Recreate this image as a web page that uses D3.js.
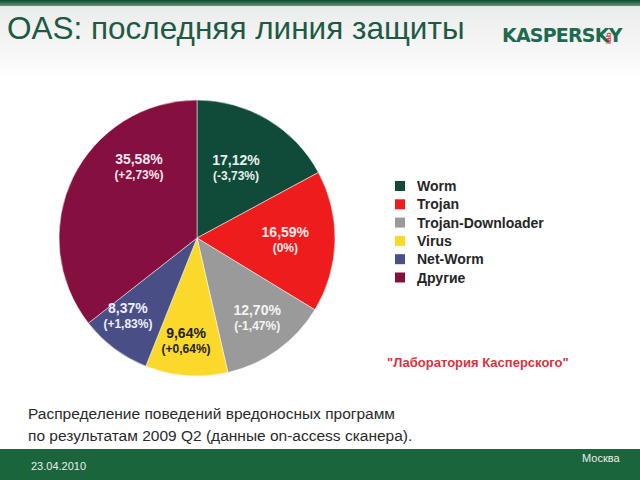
<!DOCTYPE html>
<html><head><meta charset="utf-8">
<script src="https://cdn.jsdelivr.net/npm/d3@7"></script>
<style>body{margin:0;padding:0;overflow:hidden;background:#fff}</style>
</head><body>
<svg id="c" width="640" height="480"></svg>
<script>
const categories = ["Worm","Trojan","Trojan-Downloader","Virus","Net-Worm","Другие"];
const values = [17.12,16.59,12.70,9.64,8.37,35.58];
const changes = ["(-3,73%)","(0%)","(-1,47%)","(+0,64%)","(+1,83%)","(+2,73%)"];
const colors = ["#0f4b38","#ee1c1c","#9a9a9a","#fbd92a","#4a4e86","#85103f"];
const labelColors = ["#e8f0ec","#fde8e8","#f4f4f4","#222222","#eeeeff","#f6e6ee"];

const svg = d3.select("#c");
const defs = svg.append("defs");
const g1 = defs.append("linearGradient").attr("id","bg").attr("x1","0").attr("y1","0").attr("x2","0").attr("y2","1");
g1.append("stop").attr("offset","0").attr("stop-color","#e8eae9");
g1.append("stop").attr("offset","0.6").attr("stop-color","#f6f6f6");
g1.append("stop").attr("offset","1").attr("stop-color","#ffffff");
svg.append("rect").attr("x",0).attr("y",0).attr("width",640).attr("height",480).attr("fill","#fff");
svg.append("rect").attr("x",0).attr("y",0).attr("width",640).attr("height",80).attr("fill","url(#bg)");
const g2 = defs.append("linearGradient").attr("id","top").attr("x1","0").attr("y1","0").attr("x2","0").attr("y2","1");
g2.append("stop").attr("offset","0").attr("stop-color","#0d4a2c");
g2.append("stop").attr("offset","1").attr("stop-color","#6a9279");
svg.append("rect").attr("x",0).attr("y",0).attr("width",640).attr("height",6).attr("fill","url(#top)");

svg.append("text").attr("x",7).attr("y",39)
  .attr("font-family","Liberation Sans, Arial, sans-serif").attr("font-size",31.5)
  .attr("fill","#1d5a44").text("OAS: последняя линия защиты");

// logo
svg.append("text").attr("x",502).attr("y",42)
  .attr("font-family","DejaVu Sans, sans-serif").attr("font-size",19).attr("font-weight","bold")
  .attr("letter-spacing",-0.8).attr("fill","#1c6a4f").text("KASPERSKY");
svg.append("text").attr("transform","translate(611,44) rotate(-90)")
  .attr("font-family","Liberation Sans, Arial, sans-serif").attr("font-size",8).attr("font-weight","bold")
  .attr("fill","#c8303a").text("lab");

// pie
const cx = 197, cy = 238, r = 138;
const pie = d3.pie().sort(null).value(d=>d)(values);
const arc = d3.arc().innerRadius(0).outerRadius(r);
const pg = svg.append("g").attr("transform",`translate(${cx},${cy})`);
pg.selectAll("path").data(pie).join("path").attr("d",arc).attr("fill",(d,i)=>colors[i])
  .attr("stroke","#ffffff").attr("stroke-width",0.5);
// label placement: fraction across slice angle, fraction of radius
const labelT = [0.467,0.486,0.468,0.55,0.667,0.696];
const labelK = [0.587,0.64,0.72,0.74,0.75,0.67];
pg.selectAll("g.lbl").data(pie).join("g").attr("class","lbl").each(function(d,i){
  const a = d.startAngle + labelT[i]*(d.endAngle-d.startAngle);
  const rr = r*labelK[i];
  const x = Math.sin(a)*rr, y = -Math.cos(a)*rr;
  const g = d3.select(this);
  g.append("text").attr("x",x).attr("y",y-2).attr("text-anchor","middle")
    .attr("font-family","Liberation Sans, Arial, sans-serif").attr("font-weight","bold").attr("font-size",14)
    .attr("fill",labelColors[i]).text(values[i].toFixed(2).replace(".",",")+"%");
  g.append("text").attr("x",x).attr("y",y+13).attr("text-anchor","middle")
    .attr("font-family","Liberation Sans, Arial, sans-serif").attr("font-weight","bold").attr("font-size",12)
    .attr("fill",labelColors[i]).text(changes[i]);
});

// legend
const lg = svg.append("g").attr("transform","translate(395,181)");
categories.forEach((c,i)=>{
  lg.append("rect").attr("x",0).attr("y",i*18.3).attr("width",10).attr("height",10).attr("fill",colors[i]);
  lg.append("text").attr("x",22).attr("y",i*18.3+10).attr("font-family","Liberation Sans, Arial, sans-serif")
    .attr("font-weight","bold").attr("font-size",14).attr("fill","#262626").text(c);
});

svg.append("text").attr("x",387).attr("y",367).attr("font-family","Liberation Sans, Arial, sans-serif")
  .attr("font-weight","bold").attr("font-size",13).attr("fill","#d9323e").text("\"Лаборатория Касперского\"");

svg.append("text").attr("x",28).attr("y",419).attr("font-family","Liberation Sans, Arial, sans-serif")
  .attr("font-size",15.5).attr("fill","#2a2a2a").text("Распределение поведений вредоносных программ");
svg.append("text").attr("x",28).attr("y",441).attr("font-family","Liberation Sans, Arial, sans-serif")
  .attr("font-size",15.5).attr("fill","#2a2a2a").text("по результатам 2009 Q2 (данные on-access сканера).");

svg.append("rect").attr("x",0).attr("y",449).attr("width",640).attr("height",31).attr("fill","#1a653c");
svg.append("text").attr("x",31).attr("y",470).attr("font-family","Liberation Sans, Arial, sans-serif")
  .attr("font-size",11).attr("fill","#e8f0ea").text("23.04.2010");
svg.append("text").attr("x",582).attr("y",462).attr("font-family","Liberation Sans, Arial, sans-serif")
  .attr("font-size",11).attr("fill","#e8f0ea").text("Москва");
</script>
</body></html>
